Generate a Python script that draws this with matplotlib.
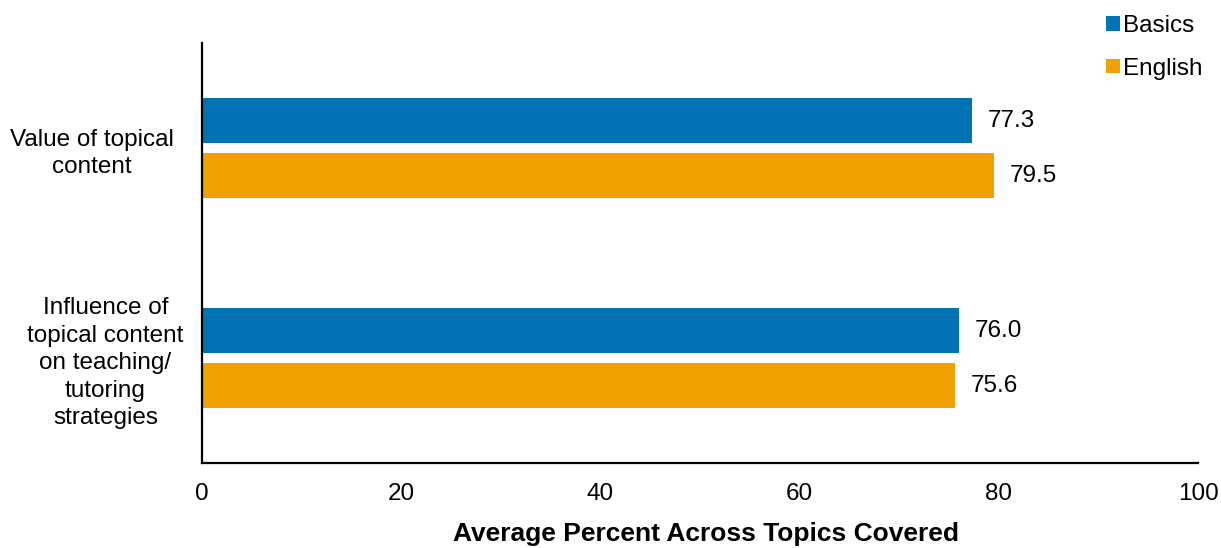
import numpy as np
import matplotlib.pyplot as plt
import matplotlib.transforms as mtransforms

plt.rcParams['font.family'] = ['Liberation Sans', 'DejaVu Sans']

categories = ['Value of topical\ncontent',
              'Influence of\ntopical content\non teaching/\ntutoring\nstrategies']
basics = [77.3, 76.0]
english = [79.5, 75.6]
series_names = ['Basics', 'English']
colors = ['#0071B3', '#F0A000']
xticks = [0, 20, 40, 60, 80, 100]

fs = 17.5

fig = plt.figure(figsize=(12.21, 5.48), dpi=100)
ax = fig.add_axes([0.1654, 0.155, 0.8158, 0.7665])

y = np.arange(len(categories))
h = 0.214
off = 0.131
for vals, name, c, sign in [(basics, series_names[0], colors[0], -1),
                            (english, series_names[1], colors[1], 1)]:
    bars = ax.barh(y + sign * off, vals, height=h, color=c, label=name)
    for b, v in zip(bars, vals):
        ax.annotate(f'{v:.1f}', (v, b.get_y() + b.get_height() / 2),
                    xytext=(16, 0), textcoords='offset pixels',
                    va='center', ha='left', fontsize=fs)

ax.set_ylim(len(categories) - 0.5, -0.5)
ax.set_xlim(0, 100)
ax.set_xticks(xticks)
ax.set_yticks(y)
ax.set_yticklabels(categories, fontsize=fs, ha='center', multialignment='center',
                   linespacing=1.32)
ax.tick_params(axis='y', length=0, pad=79.5)
ax.tick_params(axis='x', length=0, pad=14, labelsize=fs)
# second category label sits a bit further right in the original
lbl = ax.get_yticklabels()[1]
lbl.set_transform(lbl.get_transform() +
                  mtransforms.ScaledTranslation(14 / 100, 0, fig.dpi_scale_trans))

for s in ['top', 'right']:
    ax.spines[s].set_visible(False)
for s in ['left', 'bottom']:
    ax.spines[s].set_linewidth(1.6)
ax.set_xlabel('Average Percent Across Topics Covered', fontsize=19,
              fontweight='bold', va='baseline')
ax.xaxis.set_label_coords(0.506, -0.1857)

ax.legend(loc='upper left', bbox_to_anchor=(0.898, 1.09), frameon=False,
          fontsize=fs, handlelength=0.55, handleheight=0.55, handletextpad=0.15,
          labelspacing=0.85, borderaxespad=0)

fig.savefig('out.png', dpi=100)
